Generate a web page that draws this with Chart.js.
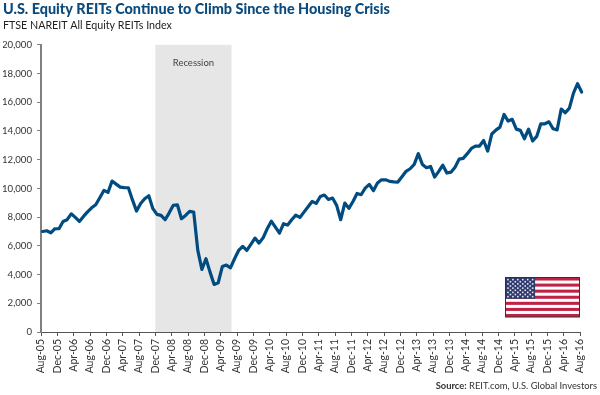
<!DOCTYPE html>
<html>
<head>
<meta charset="utf-8">
<title>U.S. Equity REITs</title>
<script src="https://cdn.jsdelivr.net/npm/chart.js@4"></script>
<style>
    html, body { margin: 0; padding: 0; background: #fff; }
    #wrap { position: relative; width: 600px; height: 395px; }
</style>
</head>
<body>
<div id="wrap"><canvas id="chart" width="600" height="395"></canvas></div>
<script>
const tickLabels = [
    'Aug-05', 'Dec-05', 'Apr-06', 'Aug-06', 'Dec-06', 'Apr-07', 'Aug-07', 'Dec-07', 'Apr-08',
    'Aug-08', 'Dec-08', 'Apr-09', 'Aug-09', 'Dec-09', 'Apr-10', 'Aug-10', 'Dec-10', 'Apr-11',
    'Aug-11', 'Dec-11', 'Apr-12', 'Aug-12', 'Dec-12', 'Apr-13', 'Aug-13', 'Dec-13', 'Apr-14',
    'Aug-14', 'Dec-14', 'Apr-15', 'Aug-15', 'Dec-15', 'Apr-16', 'Aug-16'
];

// monthly index values, Aug-05 to Aug-16
const reitValues = [
    7000, 7050, 6910, 7190, 7190,
    7700, 7820, 8230, 7980, 7700, 8050, 8370, 8650, 8860, 9350, 9860, 9720,
    10510, 10300, 10090, 10050, 10045, 9200, 8420, 8950, 9280, 9490, 8590, 8190,
    8120, 7820, 8300, 8820, 8860, 7890, 8120, 8400, 8350, 5680, 4360, 5100,
    4170, 3310, 3430, 4560, 4660, 4470, 5100, 5680, 5960, 5680, 6100, 6540,
    6190, 6560, 7190, 7720, 7300, 6880, 7540, 7450, 7820, 8140, 7980, 8350,
    8720, 9090, 8960, 9440, 9540, 9230, 9330, 8820, 7820, 8980, 8610, 9090,
    9650, 9560, 10020, 10280, 9840, 10370, 10600, 10600, 10490, 10460, 10440, 10810,
    11190, 11370, 11670, 12420, 11670, 11440, 11530, 10790, 11190, 11620, 11070, 11130,
    11480, 12040, 12090, 12420, 12780, 12950, 12950, 13340, 12600, 13790, 14060, 14270,
    15150, 14690, 14810, 14130, 14040, 13460, 14130, 13300, 13620, 14500, 14500, 14640,
    14150, 14080, 15530, 15270, 15590, 16640, 17290, 16710
];

const recessionStart = 28;   // Dec-07
const recessionEnd = 46.65;  // mid 2009

const BLUE = '#004b80';
const TEXT = '#333333';

// shaded band and its label, behind the line
const recessionBand = {
    id: 'recessionBand',
    beforeDatasetsDraw(chart) {
        const { ctx, chartArea, scales } = chart;
        const x0 = scales.x.getPixelForValue(recessionStart / 4);
        const x1 = scales.x.getPixelForValue(recessionEnd / 4);
        ctx.save();
        ctx.fillStyle = '#e6e6e6';
        ctx.fillRect(x0, chartArea.top, x1 - x0, chartArea.bottom - chartArea.top);
        ctx.fillStyle = '#444444';
        ctx.font = '9.5px Lato';
        ctx.textAlign = 'center';
        ctx.fillText('Recession', (x0 + x1) / 2, 66);
        ctx.restore();
    }
};

function drawFlag(ctx, x, y, w, h) {
    ctx.fillStyle = '#ffffff';
    ctx.fillRect(x, y, w, h);
    ctx.fillStyle = '#bf2244';
    for (let i = 0; i < 13; i += 2) {
        ctx.fillRect(x, y + i * h / 13, w, h / 13);
    }
    const cw = w * 0.4, ch = h * 7 / 13;
    ctx.fillStyle = '#2f3a6e';
    ctx.fillRect(x, y, cw, ch);
    ctx.fillStyle = '#e8e8f0';
    for (let r = 0; r < 9; r++) {
        const n = r % 2 ? 5 : 6;
        for (let c = 0; c < n; c++) {
            const sx = x + (c + (r % 2 ? 1 : 0.5)) * cw / 6;
            const sy = y + (r + 1) * ch / 10;
            ctx.fillRect(sx - 0.8, sy - 0.8, 1.6, 1.6);
        }
    }
    ctx.strokeStyle = '#333333';
    ctx.lineWidth = 1;
    ctx.strokeRect(x, y, w, h);
}

// flag and source line
const extras = {
    id: 'extras',
    afterDraw(chart) {
        const { ctx } = chart;
        ctx.save();
        drawFlag(ctx, 505.5, 277.5, 74, 39.5);
        ctx.fillStyle = TEXT;
        ctx.textAlign = 'left';
        ctx.font = 'bold 9.4px Lato';
        const label = 'Source:';
        const rest = ' REIT.com, U.S. Global Investors';
        const labelWidth = ctx.measureText(label).width;
        ctx.font = '9.4px Lato';
        const restWidth = ctx.measureText(rest).width;
        const left = 597 - labelWidth - restWidth;
        ctx.fillText(rest, left + labelWidth, 389);
        ctx.font = 'bold 9.4px Lato';
        ctx.fillText(label, left, 389);
        ctx.restore();
    }
};

new Chart(document.getElementById('chart'), {
    type: 'line',
    data: {
        labels: tickLabels,
        datasets: [{
            label: 'FTSE NAREIT All Equity REITs Index',
            data: reitValues.map((v, i) => ({ x: i, y: v })),
            xAxisID: 'months',
            yAxisID: 'y',
            borderColor: BLUE,
            borderWidth: 3.2,
            borderJoinStyle: 'round',
            borderCapStyle: 'round',
            pointRadius: 0,
            tension: 0,
            clip: false
        }]
    },
    plugins: [recessionBand, extras],
    options: {
        responsive: false,
        animation: false,
        layout: { padding: { left: 3, right: 20, top: 1, bottom: 0 } },
        plugins: {
            legend: { display: false },
            tooltip: { enabled: false },
            title: {
                display: true,
                text: 'U.S. Equity REITs Continue to Climb Since the Housing Crisis',
                align: 'start',
                color: '#0b4a7d',
                font: { family: 'Lato', size: 14.4, weight: '900' },
                padding: { top: 0, bottom: 0 }
            },
            subtitle: {
                display: true,
                text: 'FTSE NAREIT All Equity REITs Index',
                align: 'start',
                color: '#222222',
                font: { family: 'Lato', size: 10.7 },
                padding: { top: 1, bottom: 12.7 }
            }
        },
        scales: {
            x: {
                type: 'category',
                offset: false,
                afterFit(scale) { scale.height = 63; },
                border: { color: '#555555', width: 1 },
                grid: { display: true, drawOnChartArea: false, drawTicks: true, tickLength: 4, color: '#555555' },
                ticks: {
                    autoSkip: false,
                    maxRotation: 90,
                    minRotation: 90,
                    padding: 3,
                    color: TEXT,
                    font: { family: 'Lato', size: 10.5 }
                }
            },
            // the plotted line sits a little right of the axis ticks in the original
            months: {
                type: 'linear',
                display: false,
                min: -0.4,
                max: 131.6
            },
            y: {
                min: 0,
                max: 20000,
                afterFit(scale) { scale.width = 38; },
                border: { color: '#808080', width: 2 },
                grid: { display: true, drawOnChartArea: false, drawTicks: true, tickLength: 4, color: '#808080' },
                ticks: {
                    stepSize: 2000,
                    padding: 5,
                    color: TEXT,
                    font: { family: 'Lato', size: 9.6 },
                    callback: v => v.toLocaleString('en-US')
                }
            }
        }
    }
});
</script>
</body>
</html>
